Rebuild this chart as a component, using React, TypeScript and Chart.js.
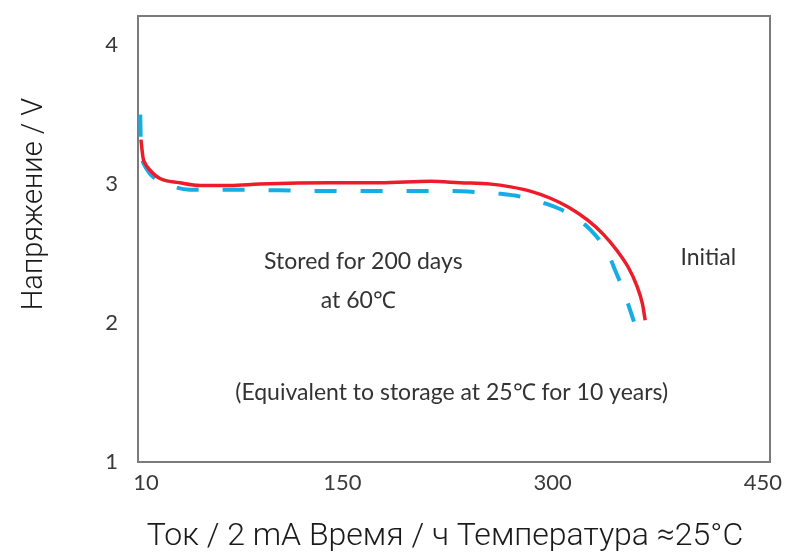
import { useEffect, useRef } from "react";
import { Chart, registerables } from "chart.js";

Chart.register(...registerables);

// ---- data ----
const xTicks = [10, 150, 300, 450];
const yTicks = [1, 2, 3, 4];

const initialTime = [6.4, 7.9, 9.3, 12.9, 20, 34, 48.6, 70, 91, 141, 177, 213, 234, 256, 270, 284, 298, 312, 325, 336, 346, 354, 360, 364, 366];
const initialVoltage = [3.32, 3.19, 3.15, 3.1, 3.04, 3.01, 2.99, 2.99, 3.0, 3.01, 3.01, 3.02, 3.01, 3.0, 2.98, 2.95, 2.9, 2.83, 2.74, 2.64, 2.52, 2.4, 2.27, 2.14, 2.02];

const storedTime = [5.9, 6.3, 9.3, 16.4, 27, 41, 70, 141, 191, 227, 249, 263, 277, 295, 313, 327, 339, 345, 351, 358];
const storedVoltage = [3.5, 3.3, 3.13, 3.04, 2.99, 2.96, 2.96, 2.95, 2.95, 2.95, 2.94, 2.93, 2.91, 2.86, 2.78, 2.67, 2.51, 2.37, 2.22, 2.01];

const seriesNames = ["Initial", "Stored for 200 days at 60℃"];
const xTitle = "Ток / 2 mA Время / ч Температура ≈25°C";
const yTitle = "Напряжение / V";

const noteTexts = ["Stored for 200 days", "at 60℃", "Initial", "(Equivalent to storage at 25℃ for 10 years)"];
const noteX = [165, 161.4, 411, 228];
const noteY = [2.44, 2.165, 2.47, 1.5];

const TICK_FONT = "Lato, 'Open Sans', sans-serif";
const TITLE_FONT = "Roboto, 'Liberation Sans', sans-serif";

const framePlugin = {
  id: "frame",
  beforeDatasetsDraw(chart: any) {
    const { ctx, chartArea: a } = chart;
    ctx.save();
    ctx.strokeStyle = "#7b7b7b";
    ctx.lineWidth = 2;
    ctx.strokeRect(a.left, a.top, a.right - a.left, a.bottom - a.top);
    ctx.restore();
  },
};

const notesPlugin = {
  id: "notes",
  afterDraw(chart: any) {
    const { ctx } = chart;
    const xs = chart.scales.x;
    const ys = chart.scales.y;
    ctx.save();
    ctx.fillStyle = "#333333";
    ctx.font = `23px ${TICK_FONT}`;
    ctx.textAlign = "center";
    ctx.textBaseline = "middle";
    noteTexts.forEach((t, i) => {
      ctx.fillText(t, xs.getPixelForValue(noteX[i]), ys.getPixelForValue(noteY[i]));
    });
    // axis titles
    ctx.fillStyle = "#1a1a1a";
    ctx.font = `300 32px ${TITLE_FONT}`;
    ctx.fillText(xTitle, 445, 537);
    ctx.translate(35, 204);
    ctx.rotate(-Math.PI / 2);
    ctx.font = `300 29px ${TITLE_FONT}`;
    ctx.fillText(yTitle, 0, 0);
    ctx.restore();
  },
};

export default function App() {
  const ref = useRef<HTMLCanvasElement | null>(null);

  useEffect(() => {
    if (!ref.current) return;
    const chart = new Chart(ref.current, {
      type: "line",
      data: {
        datasets: [
          {
            label: seriesNames[0],
            data: initialTime.map((t, i) => ({ x: t, y: initialVoltage[i] })),
            borderColor: "#ec1c2a",
            borderWidth: 3.5,
            pointRadius: 0,
            cubicInterpolationMode: "monotone",
            fill: false,
          },
          {
            label: seriesNames[1],
            data: storedTime.map((t, i) => ({ x: t, y: storedVoltage[i] })),
            borderColor: "#16ace6",
            borderWidth: 4,
            borderDash: [22, 24],
            pointRadius: 0,
            cubicInterpolationMode: "monotone",
            fill: false,
          },
        ],
      },
      options: {
        animation: false,
        responsive: true,
        maintainAspectRatio: false,
        layout: { padding: { top: 16, right: 19, left: 0, bottom: 0 } },
        plugins: { legend: { display: false }, tooltip: { enabled: false } },
        scales: {
          x: {
            type: "linear",
            min: 4.3,
            max: 455,
            afterBuildTicks: (s: any) => {
              s.ticks = xTicks.map((v) => ({ value: v }));
            },
            afterFit: (s: any) => {
              s.height = 91;
              s.paddingLeft = 0;
              s.paddingRight = 0;
            },
            grid: { display: false, drawTicks: false },
            border: { display: false },
            ticks: {
              padding: 8,
              color: "#3a3a3a",
              font: { family: TICK_FONT, size: 22 },
              maxRotation: 0,
              autoSkip: false,
            },
          },
          y: {
            type: "linear",
            min: 1,
            max: 4.21,
            afterBuildTicks: (s: any) => {
              s.ticks = yTicks.map((v) => ({ value: v }));
            },
            afterFit: (s: any) => {
              s.width = 138;
              s.paddingTop = 0;
              s.paddingBottom = 0;
            },
            grid: { display: false, drawTicks: false },
            border: { display: false },
            ticks: {
              padding: 20,
              color: "#3a3a3a",
              font: { family: TICK_FONT, size: 22 },
            },
          },
        },
      },
      plugins: [framePlugin, notesPlugin],
    });
    return () => chart.destroy();
  }, []);

  return (
    <div style={{ position: "absolute", left: 0, top: 0, width: 789, height: 553, background: "#fff" }}>
      <canvas ref={ref} />
    </div>
  );
}
